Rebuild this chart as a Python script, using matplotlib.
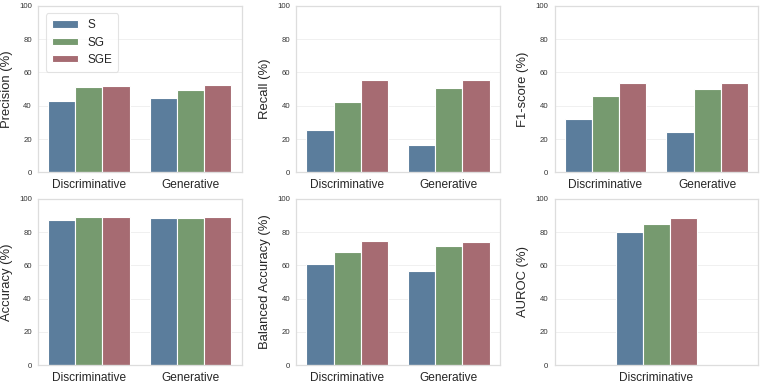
import numpy as np
import matplotlib
matplotlib.use("Agg")
import matplotlib.pyplot as plt
import seaborn as sns

sns.set_theme(style="whitegrid")
plt.rcParams['font.family'] = ['Liberation Sans', 'DejaVu Sans']

methods = ["S", "SG", "SGE"]
colors = ["#5B7D9C", "#769A6F", "#A66B72"]
categories = ["Discriminative", "Generative"]

precision = {"S": [42.8, 44.6], "SG": [51.0, 49.2], "SGE": [51.8, 52.2]}
recall = {"S": [25.6, 16.6], "SG": [42.0, 50.4], "SGE": [55.6, 55.2]}
f1 = {"S": [32.0, 24.2], "SG": [46.0, 49.8], "SGE": [53.6, 53.6]}
accuracy = {"S": [87.4, 88.2], "SG": [88.8, 88.4], "SGE": [89.0, 89.0]}
balanced = {"S": [60.6, 56.8], "SG": [68.2, 71.8], "SGE": [74.4, 74.0]}
auroc_categories = ["Discriminative"]
auroc = {"S": [79.8], "SG": [84.8], "SGE": [88.2]}

panels = [
    ("Precision (%)", categories, precision),
    ("Recall (%)", categories, recall),
    ("F1-score (%)", categories, f1),
    ("Accuracy (%)", categories, accuracy),
    ("Balanced Accuracy (%)", categories, balanced),
    ("AUROC (%)", auroc_categories, auroc),
]

fig, axes = plt.subplots(2, 3, figsize=(7.6, 3.84), dpi=100)
fig.subplots_adjust(left=0.05, right=0.9974, top=0.985, bottom=0.0487,
                    wspace=0.269, hspace=0.158)

bw = 0.8 / 3
for ax, (label, cats, data) in zip(axes.flat, panels):
    x = np.arange(len(cats))
    for i, m in enumerate(methods):
        ax.bar(x + (i - 1) * bw, data[m], width=bw, color=colors[i],
               edgecolor="white", linewidth=0.8, label=m)
    ax.set_ylim(0, 100)
    ax.set_yticks([0, 20, 40, 60, 80, 100])
    if len(cats) == 1:
        ax.set_xlim(-1, 1)
    else:
        ax.set_xlim(-0.5, 1.5)
    ax.set_xticks(x)
    ax.set_xticklabels(cats, fontsize=8.6, color="#262626")
    ax.tick_params(axis="y", labelsize=5.6, labelcolor="#333333", pad=4.5,
                   length=0)
    ax.tick_params(axis="x", pad=4.5, length=0)
    ax.set_ylabel(label, fontsize=9.4, color="#262626", labelpad=4.5)
    ax.grid(axis="x", visible=False)
    ax.grid(axis="y", color="#eeeeee", linewidth=0.6)
    ax.set_axisbelow(True)
    for s in ax.spines.values():
        s.set_color("#dddddd")
        s.set_linewidth(0.9)

leg = axes[0, 0].legend(loc="upper left", fontsize=8.5, handlelength=2.2,
                        handleheight=0.6, labelspacing=0.45,
                        borderpad=0.5, handletextpad=0.8, frameon=True,
                        bbox_to_anchor=(0.01, 0.99))
leg.get_frame().set_edgecolor("#dddddd")
leg.get_frame().set_linewidth(0.8)

fig.savefig("out.png", dpi=100)
